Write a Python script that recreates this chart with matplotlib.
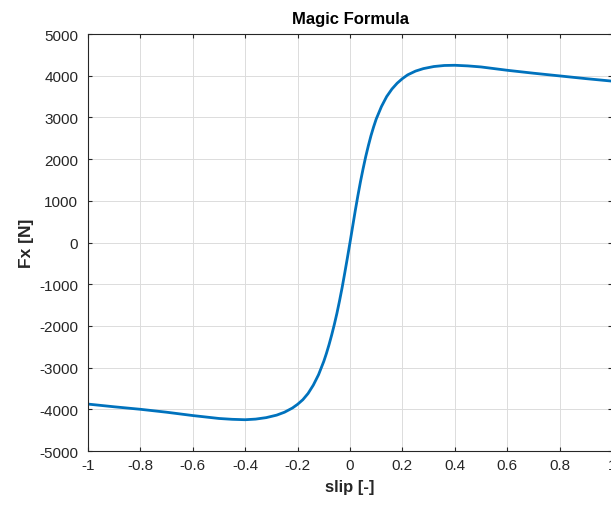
import numpy as np
import matplotlib
matplotlib.use("Agg")
import matplotlib.pyplot as plt

# slip values and longitudinal force
slip = [-1.00, -0.90, -0.80, -0.70, -0.60, -0.50, -0.45, -0.40, -0.36, -0.32,
        -0.28, -0.25, -0.22, -0.20, -0.18, -0.16, -0.14, -0.12, -0.10, -0.09,
        -0.08, -0.07, -0.06, -0.05, -0.04, -0.03, -0.02, -0.01, 0.00,
        0.01, 0.02, 0.03, 0.04, 0.05, 0.06, 0.07, 0.08, 0.09, 0.10,
        0.12, 0.14, 0.16, 0.18, 0.20, 0.22, 0.25, 0.28, 0.32, 0.36,
        0.40, 0.45, 0.50, 0.60, 0.70, 0.80, 0.90, 1.00]
fx = [-3875, -3940, -4000, -4070, -4150, -4220, -4240, -4250, -4235, -4200,
      -4140, -4070, -3970, -3880, -3770, -3620, -3420, -3170, -2850, -2660,
      -2450, -2220, -1970, -1700, -1400, -1080, -730, -370, 0,
      380, 760, 1120, 1460, 1770, 2060, 2320, 2560, 2770, 2960,
      3260, 3500, 3680, 3820, 3930, 4020, 4110, 4170, 4220, 4245,
      4250, 4235, 4210, 4130, 4060, 3995, 3930, 3870]

xticks = [-1, -0.8, -0.6, -0.4, -0.2, 0, 0.2, 0.4, 0.6, 0.8, 1]
xticklabels = ["-1", "-0.8", "-0.6", "-0.4", "-0.2", "0", "0.2", "0.4", "0.6", "0.8", "1"]
yticks = [-5000, -4000, -3000, -2000, -1000, 0, 1000, 2000, 3000, 4000, 5000]

plt.rcParams['font.family'] = ['Liberation Sans', 'DejaVu Sans']
plt.rcParams['axes.unicode_minus'] = False

fig = plt.figure(figsize=(6.11, 5.06), dpi=100)
ax = fig.add_axes([88 / 611, 54 / 506, 524 / 611, 417 / 506])

ax.plot(slip, fx, color='#0072BD', linewidth=2.0)

ax.set_xlim(-1, 1)
ax.set_ylim(-5000, 5000)
ax.set_xticks(xticks)
ax.set_xticklabels(xticklabels)
ax.set_yticks(yticks)

ax.grid(True, color='#dcdcdc', linewidth=0.7)
ax.set_axisbelow(True)
for s in ax.spines.values():
    s.set_color('#262626')
    s.set_linewidth(0.8)
ax.tick_params(direction='in', length=3, width=0.8, color='#262626',
               top=True, right=True, labelsize=11, labelcolor='#262626')
ax.tick_params(axis='x', pad=5)
ax.tick_params(axis='y', pad=7)

ax.set_title('Magic Formula', fontsize=12, fontweight='bold', pad=8)
ax.set_xlabel('slip [-]', fontsize=12, fontweight='bold', color='#262626', labelpad=5)
ax.set_ylabel('Fx [N]', fontsize=12.5, fontweight='bold', color='#262626', labelpad=4)

fig.savefig('out.png', dpi=100)
